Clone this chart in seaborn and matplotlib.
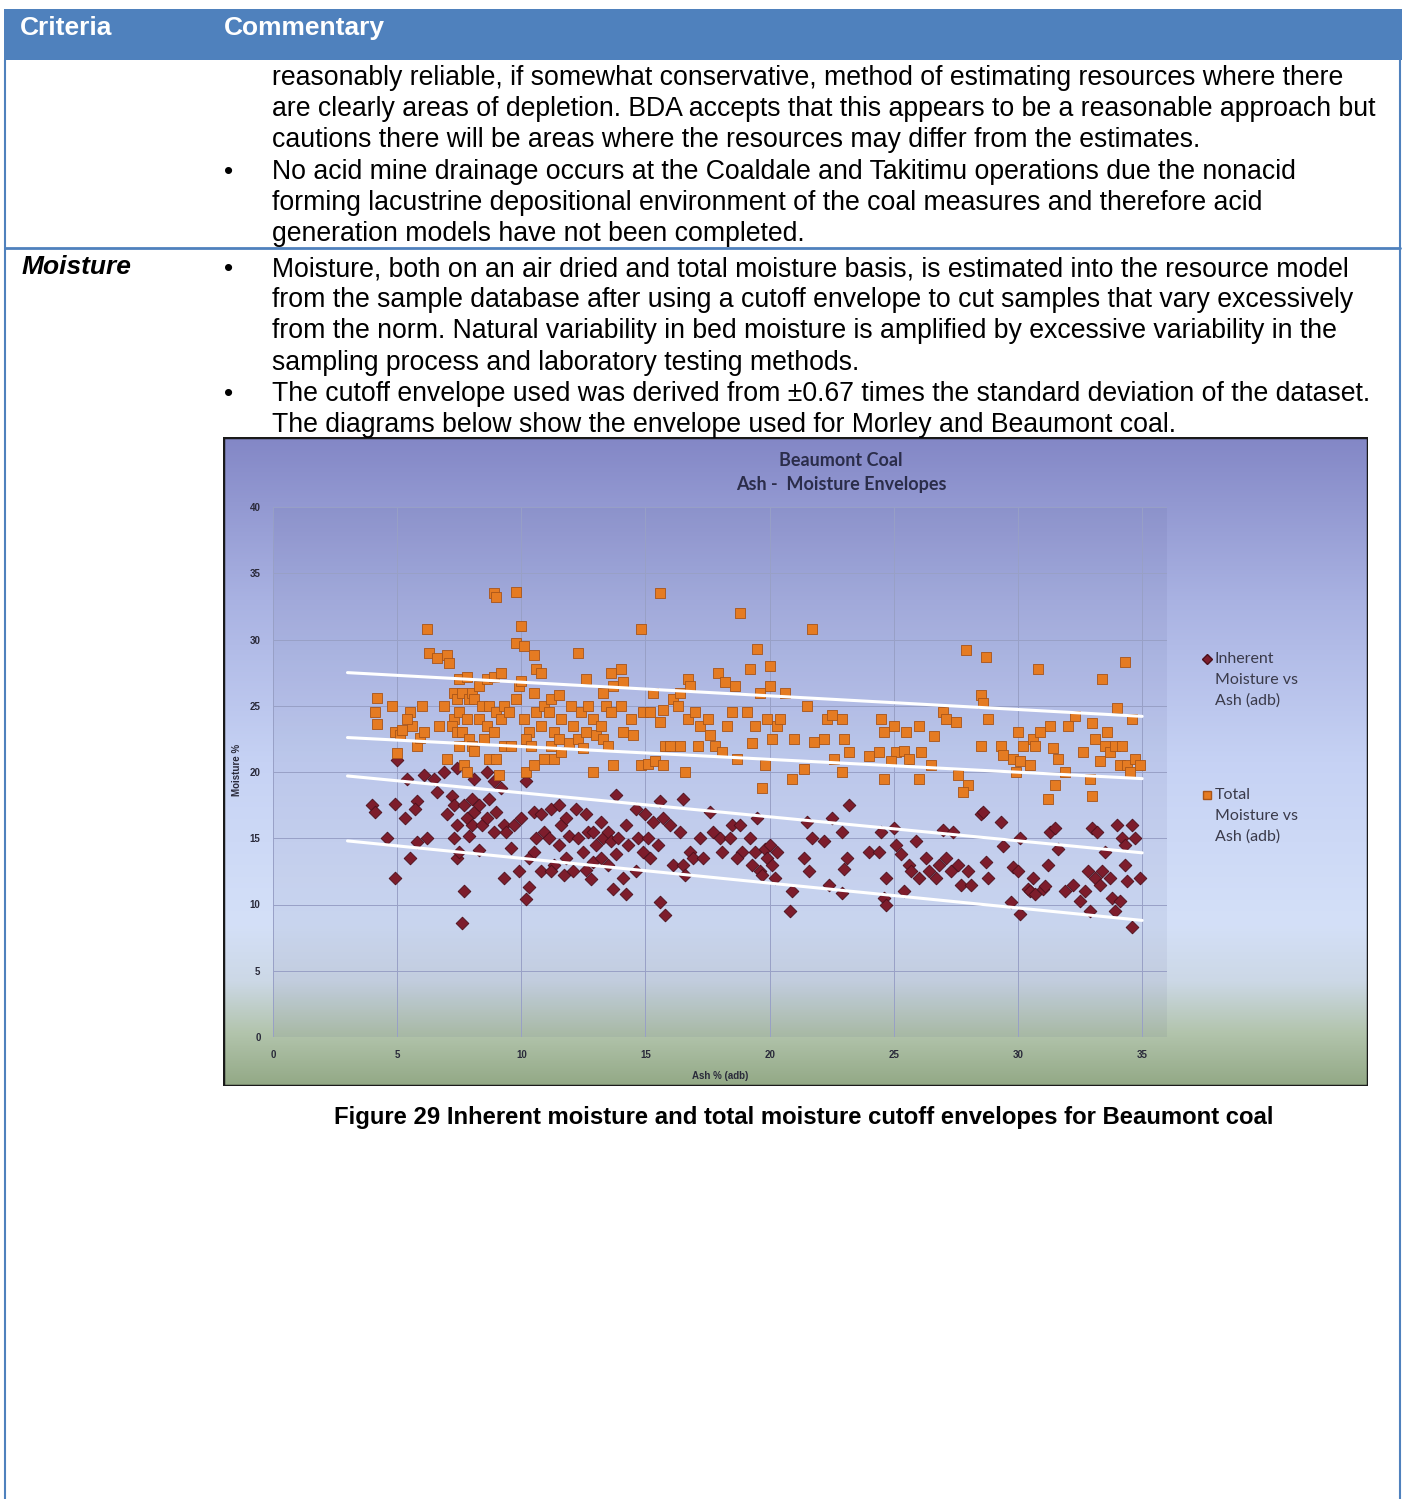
import numpy as np
import pandas as pd
import seaborn as sns
import matplotlib.pyplot as plt
from matplotlib.colors import LinearSegmentedColormap
from matplotlib.patches import Rectangle

# Inherent moisture vs ash (adb)
inherent_ash = [4.0, 4.1, 4.6, 4.9, 4.9, 5.0, 5.3, 5.5, 5.4, 5.8, 5.7, 5.8,
                6.2, 6.1, 6.6, 6.5, 7.0, 6.9, 7.2, 7.3, 7.4, 7.3, 7.4, 7.5, 7.4,
                7.7, 7.8, 7.7, 7.6, 8.0, 8.1, 8.0, 7.9, 8.1, 8.3, 8.4, 8.3,
                8.6, 8.7, 8.6, 8.9, 9.0, 8.9, 9.2, 9.3, 9.4, 9.3, 9.7, 9.6,
                10.0, 9.9, 10.2, 10.3, 10.2, 10.3, 10.5, 10.6, 10.5, 10.8, 10.9, 10.8,
                11.2, 11.1, 11.3, 11.2, 11.5, 11.6, 11.5, 11.8, 11.9, 11.8, 11.7,
                12.2, 12.3, 12.1, 12.6, 12.7, 12.5, 12.6, 12.9, 13.0, 12.9, 12.8,
                13.2, 13.3, 13.2, 13.5, 13.6, 13.5, 13.8, 13.9, 13.8, 13.7,
                14.2, 14.3, 14.1, 14.2, 14.6, 14.7, 14.6, 15.0, 15.1, 14.9, 15.3, 15.2,
                15.6, 15.7, 15.5, 15.6, 15.8, 16.0, 16.1, 16.5, 16.4, 16.5, 16.6, 16.8, 16.9,
                17.2, 17.3, 17.6, 17.7, 18.0, 18.1, 18.4, 18.5, 18.8, 18.9, 18.7,
                19.2, 19.3, 19.5, 19.4, 19.6, 19.8, 19.9, 19.7, 20.0, 20.1, 20.3, 20.2,
                20.9, 20.8, 21.5, 21.4, 21.7, 21.6, 22.2, 22.5, 22.4, 22.9, 23.0, 22.9, 23.2, 23.1,
                24.0, 24.4, 24.5, 24.7, 24.6, 24.7, 25.0, 25.1, 25.3, 25.4, 25.6, 25.7, 25.9, 26.0,
                26.3, 26.4, 26.8, 26.7, 27.0, 27.1, 27.4, 27.3, 27.6, 27.7, 28.0, 28.1,
                28.5, 28.6, 28.7, 28.8, 29.3, 29.4, 29.8, 29.7, 30.1, 30.0, 30.1, 30.4, 30.5, 30.6, 30.7,
                31.0, 31.1, 31.3, 31.2, 31.5, 31.6, 31.9, 32.2, 32.5, 32.8, 32.7, 33.0, 33.1, 32.9,
                33.2, 33.3, 33.5, 33.4, 33.8, 33.7, 34.0, 34.1, 33.9, 34.3, 34.2, 34.4, 34.3, 34.6, 34.7, 34.6, 34.9]
inherent_moisture = [17.5, 17.0, 15.0, 17.6, 12.0, 20.9, 16.5, 13.5, 19.5, 17.8, 17.2, 14.7,
                     15.0, 19.8, 18.5, 19.5, 16.8, 20.0, 18.2, 17.5, 16.0, 15.0, 13.5, 14.0, 20.3,
                     17.5, 16.5, 11.0, 8.6, 18.0, 17.0, 16.0, 15.2, 19.5, 17.5, 16.0, 14.1,
                     20.0, 18.0, 16.5, 19.3, 17.0, 15.5, 18.8, 16.0, 15.5, 12.0, 16.0, 14.3,
                     16.5, 12.5, 19.3, 13.5, 10.4, 11.3, 17.0, 15.0, 14.0, 16.8, 15.5, 12.5,
                     17.2, 15.0, 13.0, 12.5, 17.5, 16.0, 14.5, 16.5, 15.2, 13.5, 12.2,
                     17.2, 15.0, 12.5, 16.8, 15.5, 14.0, 12.6, 15.5, 14.5, 13.2, 11.9,
                     16.2, 15.0, 13.5, 15.5, 14.8, 13.0, 18.3, 15.0, 13.8, 11.2,
                     16.0, 14.5, 12.0, 10.8, 17.2, 15.0, 12.5, 16.8, 15.0, 14.0, 16.2, 13.5,
                     17.8, 16.5, 14.5, 10.2, 9.2, 16.0, 13.0, 18.0, 15.5, 13.0, 12.2, 14.0, 13.5,
                     15.0, 13.5, 17.0, 15.5, 15.0, 14.0, 15.0, 16.0, 16.0, 14.0, 13.5,
                     15.0, 13.0, 16.5, 14.0, 12.5, 14.2, 13.5, 12.2, 14.5, 13.0, 14.0, 12.0,
                     11.0, 9.5, 16.2, 13.5, 15.0, 12.5, 14.8, 16.5, 11.5, 15.5, 12.7, 10.9, 17.5, 13.5,
                     14.0, 14.0, 15.5, 12.0, 10.5, 10.0, 15.8, 14.5, 13.8, 11.0, 13.0, 12.5, 14.8, 12.0,
                     13.5, 12.5, 13.0, 12.0, 15.6, 13.5, 15.5, 12.5, 13.0, 11.5, 12.5, 11.5,
                     16.8, 17.0, 13.2, 12.0, 16.2, 14.4, 12.8, 10.2, 15.0, 12.5, 9.3, 11.2, 11.0, 12.0, 10.8,
                     11.2, 11.4, 15.5, 13.0, 15.8, 14.2, 11.0, 11.5, 10.3, 12.5, 11.0, 15.8, 12.0, 9.5,
                     15.5, 11.5, 14.0, 12.5, 10.5, 12.0, 16.0, 10.3, 9.5, 13.0, 15.0, 11.8, 14.5, 16.0, 15.0, 8.3, 12.0]

# Total moisture vs ash (adb)
total_ash = [4.2, 4.1, 4.2, 4.8, 4.9, 5.0, 5.1, 5.2,
             5.5, 5.6, 5.4, 5.8, 5.9, 6.0, 6.1, 6.2, 6.3,
             6.6, 6.7, 7.0, 7.1, 6.9, 7.0, 7.3, 7.2, 7.4, 7.3, 7.4,
             7.5, 7.6, 7.5, 7.6, 7.5, 7.7, 7.8, 7.9, 7.8, 7.9, 7.8,
             8.0, 8.1, 8.0, 8.1, 8.3, 8.4, 8.3, 8.6, 8.7, 8.6, 8.5, 8.7,
             8.9, 9.0, 8.9, 9.0, 8.9, 9.0, 9.1, 9.2, 9.3, 9.2, 9.3, 9.5, 9.6,
             9.8, 9.8, 9.9, 9.8, 10.0, 10.1, 10.0, 10.1, 10.2, 10.3, 10.2,
             10.5, 10.6, 10.5, 10.6, 10.4, 10.5, 10.8, 10.9, 10.8, 10.9,
             11.2, 11.1, 11.3, 11.2, 11.3, 11.5, 11.6, 11.5, 11.6, 12.0, 12.1, 11.9,
             12.3, 12.4, 12.3, 12.6, 12.7, 12.6, 12.5, 12.9, 13.0, 12.9,
             13.3, 13.4, 13.2, 13.3, 13.6, 13.7, 13.6, 13.5, 13.7, 14.0, 14.1, 14.0, 14.1,
             14.4, 14.5, 14.8, 14.9, 14.8, 15.1, 15.2, 15.3, 15.4, 15.6, 15.7, 15.6, 15.8, 15.7,
             16.0, 16.1, 16.4, 16.3, 16.4, 16.7, 16.8, 16.7, 16.6, 17.0, 17.1, 17.2, 17.5, 17.6,
             17.9, 17.8, 18.2, 18.3, 18.1, 18.6, 18.5, 18.7, 18.8, 19.2, 19.1, 19.3,
             19.5, 19.4, 19.6, 19.7, 19.8, 20.0, 19.9, 20.1, 20.0, 20.3, 20.4, 20.6, 20.9, 21.0,
             21.5, 21.4, 21.7, 21.8, 22.2, 22.3, 22.5, 22.6, 22.9, 23.0, 22.9, 23.2,
             24.0, 24.5, 24.6, 24.4, 24.6, 25.0, 25.1, 24.9, 25.5, 25.4, 25.6, 26.0, 26.1, 26.0,
             26.6, 26.5, 27.0, 27.1, 27.5, 27.6, 27.9, 28.0, 27.8, 28.5, 28.6, 28.5, 28.7, 28.8,
             29.3, 29.4, 29.8, 29.9, 30.1, 30.2, 30.0, 30.5, 30.6, 30.8, 30.9, 30.7,
             31.3, 31.4, 31.2, 31.5, 31.6, 31.9, 32.0, 32.3, 32.6, 33.0, 33.1, 32.9, 33.0,
             33.4, 33.5, 33.3, 33.6, 33.7, 34.0, 34.1, 33.9, 34.3, 34.2, 34.4, 34.6, 34.7, 34.5, 34.9]
total_moisture = [25.6, 24.5, 23.6, 25.0, 23.0, 21.4, 22.8, 23.2,
                  24.5, 23.5, 24.0, 22.0, 22.6, 25.0, 23.0, 30.8, 29.0,
                  28.6, 23.5, 28.8, 28.2, 25.0, 21.0, 24.0, 23.5, 23.0, 26.0, 25.5,
                  27.0, 26.0, 24.5, 23.0, 22.0, 20.5, 27.2, 25.5, 24.0, 22.5, 20.0,
                  26.0, 25.5, 22.0, 21.6, 26.5, 25.0, 24.0, 27.0, 25.0, 23.5, 22.5, 21.0,
                  33.5, 33.2, 27.2, 24.5, 23.0, 21.0, 19.8, 27.5, 25.0, 24.0, 22.0, 24.5, 22.0,
                  33.6, 29.7, 26.5, 25.5, 31.0, 29.5, 26.9, 24.0, 20.0, 23.0, 22.5,
                  28.8, 27.8, 26.0, 24.5, 22.0, 20.5, 27.5, 25.0, 23.5, 21.0,
                  25.5, 24.5, 23.0, 22.0, 21.0, 25.8, 24.0, 22.5, 21.5, 25.0, 23.5, 22.2,
                  29.0, 24.5, 22.5, 27.0, 25.0, 23.0, 21.8, 24.0, 22.8, 20.0,
                  26.0, 25.0, 23.5, 22.5, 27.5, 26.5, 24.5, 22.0, 20.5, 27.8, 26.8, 25.0, 23.0,
                  24.0, 22.8, 30.8, 24.5, 20.5, 20.6, 24.5, 26.0, 20.8, 33.5, 24.7, 23.8, 22.0, 20.5,
                  22.0, 25.5, 26.0, 25.0, 22.0, 27.0, 26.5, 24.0, 20.0, 24.5, 22.0, 23.5, 24.0, 22.8,
                  27.5, 22.0, 26.8, 23.5, 21.5, 26.5, 24.5, 21.0, 32.0, 27.8, 24.5, 22.2,
                  29.3, 23.5, 26.0, 18.8, 20.5, 26.5, 24.0, 22.5, 28.0, 23.5, 24.0, 26.0, 19.5, 22.5,
                  25.0, 20.2, 30.8, 22.3, 22.5, 24.0, 24.3, 21.0, 24.0, 22.5, 20.0, 21.5,
                  21.2, 24.0, 23.0, 21.5, 19.5, 23.5, 21.5, 20.8, 23.0, 21.6, 21.0, 23.5, 21.5, 19.5,
                  22.7, 20.5, 24.5, 24.0, 23.8, 19.8, 29.2, 19.0, 18.5, 25.8, 25.2, 22.0, 28.7, 24.0,
                  22.0, 21.3, 21.0, 20.0, 20.8, 22.0, 23.0, 20.5, 22.5, 27.8, 23.0, 22.0,
                  23.5, 21.8, 18.0, 19.0, 21.0, 20.0, 23.5, 24.2, 21.5, 23.7, 22.5, 19.5, 18.2,
                  27.0, 22.0, 20.8, 23.0, 21.5, 24.8, 20.5, 22.0, 28.3, 22.0, 20.5, 24.0, 21.0, 20.0, 20.5]

# cutoff envelopes (end points)
env_ash = [3, 35]
env_total_high = [27.5, 24.2]
env_total_low = [22.6, 19.5]
env_inherent_high = [19.7, 13.9]
env_inherent_low = [14.8, 8.8]

x_ticks = [0, 5, 10, 15, 20, 25, 30, 35]
y_ticks = [0, 5, 10, 15, 20, 25, 30, 35, 40]

block1 = ["reasonably reliable, if somewhat conservative, method of estimating resources where there",
          "are clearly areas of depletion. BDA accepts that this appears to be a reasonable approach but",
          "cautions there will be areas where the resources may differ from the estimates.",
          "No acid mine drainage occurs at the Coaldale and Takitimu operations due the nonacid",
          "forming lacustrine depositional environment of the coal measures and therefore acid",
          "generation models have not been completed."]
block2 = ["Moisture, both on an air dried and total moisture basis, is estimated into the resource model",
          "from the sample database after using a cutoff envelope to cut samples that vary excessively",
          "from the norm. Natural variability in bed moisture is amplified by excessive variability in the",
          "sampling process and laboratory testing methods.",
          "The cutoff envelope used was derived from \u00b10.67 times the standard deviation of the dataset.",
          "The diagrams below show the envelope used for Morley and Beaumont coal."]

sns.set_theme(style='white')
plt.rcParams['font.family'] = ['Liberation Sans', 'DejaVu Sans']
plt.rcParams['text.color'] = 'black'

W, H = 1408, 1499
fig = plt.figure(figsize=(W / 100, H / 100), dpi=100)
fig.patch.set_facecolor('white')


def axes_px(x0, y0, x1, y1):
    return fig.add_axes([x0 / W, 1 - y1 / H, (x1 - x0) / W, (y1 - y0) / H])


# page / table (drawn on top of the chart axes, no background)
page = axes_px(0, 0, W, H)
page.set_xlim(0, W)
page.set_ylim(H, 0)
page.axis('off')
page.set_zorder(10)

blue = '#4f81bd'
page.add_patch(Rectangle((4, 9), 1398, 51, color=blue, lw=0))
page.plot([5, 5], [60, H], color=blue, lw=1.5)
page.plot([1400, 1400], [60, H], color=blue, lw=1.5)
page.plot([5, 1400], [248, 248], color=blue, lw=2)

page.text(20, 35, 'Criteria', color='white', fontsize=19, fontweight='bold', va='baseline')
page.text(224, 35, 'Commentary', color='white', fontsize=19, fontweight='bold', va='baseline')
page.text(22, 274, 'Moisture', fontsize=19, fontweight='bold', style='italic', va='baseline')

for i, line in enumerate(block1):
    page.text(272, 85 + i * 31.2, line, fontsize=19.15, va='baseline')
for i, line in enumerate(block2):
    page.text(272, 276 + i * 31.2, line, fontsize=19.15, va='baseline')
for yb in [179, 276, 401]:
    page.text(224, yb, '\u2022', fontsize=19, va='baseline')

page.text(804, 1124, 'Figure 29 Inherent moisture and total moisture cutoff envelopes for Beaumont coal',
          ha='center', va='baseline', fontsize=17.2, fontweight='bold')

# chart background
bg = axes_px(223, 437, 1368, 1086)
stops = [(0.0, '#8387c6'), (0.25, '#a9b2e2'), (0.5, '#c6d2f4'), (0.75, '#d4e0f8'),
         (0.84, '#ccd8e6'), (0.92, '#b2c4ac'), (1.0, '#93a986')]
cmap = LinearSegmentedColormap.from_list('chartbg', stops)
bg.imshow(np.linspace(0, 1, 256)[:, None], aspect='auto', cmap=cmap, extent=[0, 1, 0, 1])
bg.set_xlim(0, 1)
bg.set_ylim(0, 1)
bg.axis('off')
bg.add_patch(Rectangle((0, 0), 1, 1, transform=bg.transAxes, fill=False, ec='#1a1a1a', lw=2.5))

# scatter plot area
sc = axes_px(273, 507, 1167, 1037)
sc.set_facecolor((0.15, 0.15, 0.4, 0.06))
inh = pd.DataFrame({'ash': inherent_ash, 'moisture': inherent_moisture})
tot = pd.DataFrame({'ash': total_ash, 'moisture': total_moisture})
sns.scatterplot(data=inh, x='ash', y='moisture', marker='D', s=42, color='#7d1d2c',
                edgecolor='#4b0f1a', linewidth=0.6, ax=sc, legend=False, zorder=3)
sns.scatterplot(data=tot, x='ash', y='moisture', marker='s', s=45, color='#e57b22',
                edgecolor='#a85418', linewidth=0.6, ax=sc, legend=False, zorder=3)
for env in [env_total_high, env_total_low, env_inherent_high, env_inherent_low]:
    sns.lineplot(x=env_ash, y=env, color='white', lw=2.2, ax=sc, zorder=4)

sc.set_xlim(0, 36)
sc.set_ylim(0, 40)
sc.set_xticks(x_ticks)
sc.set_yticks(y_ticks)
sc.grid(True, color='#98a0c6', lw=0.7)
sc.set_axisbelow(True)
for s in sc.spines.values():
    s.set_visible(False)
sc.tick_params(length=0, labelsize=7, colors='#2a2a3a', pad=9)
for lab in sc.get_xticklabels() + sc.get_yticklabels():
    lab.set_fontweight('bold')
sc.set_xlabel('')
sc.set_ylabel('')

page.text(720, 1076, 'Ash % (adb)', ha='center', va='center', fontsize=7, fontweight='bold', color='#2a2a3a')
page.text(237, 770, 'Moisture %', ha='center', va='center', rotation=90, fontsize=7,
          fontweight='bold', color='#2a2a3a')
page.text(841, 460, 'Beaumont Coal', ha='center', va='center', fontsize=13, fontweight='bold',
          family='Lato', color='#2b2d4a')
page.text(841, 484, 'Ash -  Moisture Envelopes', ha='center', va='center', fontsize=13,
          fontweight='bold', family='Lato', color='#2b2d4a')

# legend
page.plot(1207, 659, marker='D', ms=5, color='#7d1d2c', mec='#4b0f1a')
page.plot(1207, 795, marker='s', ms=5.5, color='#e57b22', mec='#a85418')
for yy, txt in [(659, 'Inherent'), (680, 'Moisture vs'), (701, 'Ash (adb)'),
                (795, 'Total'), (816, 'Moisture vs'), (837, 'Ash (adb)')]:
    page.text(1215, yy, txt, va='center', fontsize=11.5, family='Lato', color='#3a3a4a')

fig.savefig('out.png', dpi=100)
